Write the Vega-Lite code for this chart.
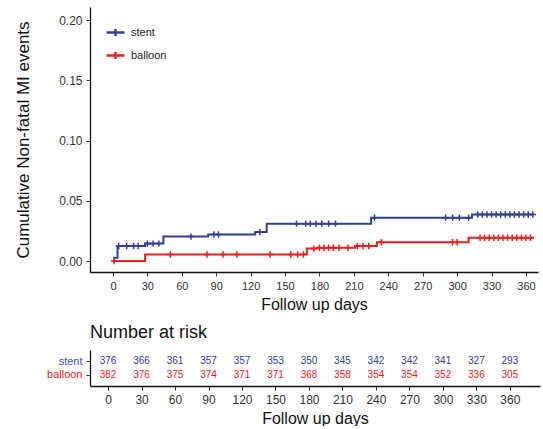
{
  "$schema": "https://vega.github.io/schema/vega-lite/v6.json",
  "padding": {"left": 14, "top": 7, "right": 3, "bottom": 0},
  "background": "white",
  "datasets": {
    "km": [
      {"group": "stent", "day": 0, "cum": 0},
      {"group": "stent", "day": 1, "cum": 0.0027},
      {"group": "stent", "day": 4, "cum": 0.0125},
      {"group": "stent", "day": 28, "cum": 0.0145},
      {"group": "stent", "day": 44, "cum": 0.0203},
      {"group": "stent", "day": 83, "cum": 0.022},
      {"group": "stent", "day": 124, "cum": 0.024},
      {"group": "stent", "day": 134, "cum": 0.031},
      {"group": "stent", "day": 225, "cum": 0.036},
      {"group": "stent", "day": 313, "cum": 0.0386},
      {"group": "stent", "day": 367, "cum": 0.0386},
      {"group": "balloon", "day": 0, "cum": 0},
      {"group": "balloon", "day": 28, "cum": 0.0054},
      {"group": "balloon", "day": 169, "cum": 0.0104},
      {"group": "balloon", "day": 178, "cum": 0.011},
      {"group": "balloon", "day": 211, "cum": 0.0125},
      {"group": "balloon", "day": 230, "cum": 0.0156},
      {"group": "balloon", "day": 310, "cum": 0.0193},
      {"group": "balloon", "day": 367, "cum": 0.0193}
    ],
    "cens": [
      {"group": "stent", "day": 5, "cum": 0.0125},
      {"group": "stent", "day": 12, "cum": 0.0125},
      {"group": "stent", "day": 18, "cum": 0.0125},
      {"group": "stent", "day": 22, "cum": 0.0125},
      {"group": "stent", "day": 30, "cum": 0.0145},
      {"group": "stent", "day": 35, "cum": 0.0145},
      {"group": "stent", "day": 40, "cum": 0.0145},
      {"group": "stent", "day": 68, "cum": 0.0203},
      {"group": "stent", "day": 88, "cum": 0.022},
      {"group": "stent", "day": 92, "cum": 0.022},
      {"group": "stent", "day": 128, "cum": 0.024},
      {"group": "stent", "day": 160, "cum": 0.031},
      {"group": "stent", "day": 168, "cum": 0.031},
      {"group": "stent", "day": 172, "cum": 0.031},
      {"group": "stent", "day": 177, "cum": 0.031},
      {"group": "stent", "day": 182, "cum": 0.031},
      {"group": "stent", "day": 188, "cum": 0.031},
      {"group": "stent", "day": 194, "cum": 0.031},
      {"group": "stent", "day": 228, "cum": 0.036},
      {"group": "stent", "day": 290, "cum": 0.036},
      {"group": "stent", "day": 296, "cum": 0.036},
      {"group": "stent", "day": 302, "cum": 0.036},
      {"group": "stent", "day": 310, "cum": 0.036},
      {"group": "stent", "day": 318, "cum": 0.0386},
      {"group": "stent", "day": 322, "cum": 0.0386},
      {"group": "stent", "day": 326, "cum": 0.0386},
      {"group": "stent", "day": 330, "cum": 0.0386},
      {"group": "stent", "day": 334, "cum": 0.0386},
      {"group": "stent", "day": 338, "cum": 0.0386},
      {"group": "stent", "day": 342, "cum": 0.0386},
      {"group": "stent", "day": 346, "cum": 0.0386},
      {"group": "stent", "day": 350, "cum": 0.0386},
      {"group": "stent", "day": 354, "cum": 0.0386},
      {"group": "stent", "day": 358, "cum": 0.0386},
      {"group": "stent", "day": 362, "cum": 0.0386},
      {"group": "stent", "day": 366, "cum": 0.0386},
      {"group": "balloon", "day": 1, "cum": 0},
      {"group": "balloon", "day": 50, "cum": 0.0054},
      {"group": "balloon", "day": 82, "cum": 0.0054},
      {"group": "balloon", "day": 96, "cum": 0.0054},
      {"group": "balloon", "day": 108, "cum": 0.0054},
      {"group": "balloon", "day": 137, "cum": 0.0054},
      {"group": "balloon", "day": 155, "cum": 0.0054},
      {"group": "balloon", "day": 161, "cum": 0.0054},
      {"group": "balloon", "day": 166, "cum": 0.0054},
      {"group": "balloon", "day": 175, "cum": 0.0104},
      {"group": "balloon", "day": 180, "cum": 0.011},
      {"group": "balloon", "day": 184, "cum": 0.011},
      {"group": "balloon", "day": 188, "cum": 0.011},
      {"group": "balloon", "day": 192, "cum": 0.011},
      {"group": "balloon", "day": 197, "cum": 0.011},
      {"group": "balloon", "day": 205, "cum": 0.011},
      {"group": "balloon", "day": 213, "cum": 0.0125},
      {"group": "balloon", "day": 218, "cum": 0.0125},
      {"group": "balloon", "day": 223, "cum": 0.0125},
      {"group": "balloon", "day": 234, "cum": 0.0156},
      {"group": "balloon", "day": 296, "cum": 0.0156},
      {"group": "balloon", "day": 300, "cum": 0.0156},
      {"group": "balloon", "day": 320, "cum": 0.0193},
      {"group": "balloon", "day": 324, "cum": 0.0193},
      {"group": "balloon", "day": 328, "cum": 0.0193},
      {"group": "balloon", "day": 332, "cum": 0.0193},
      {"group": "balloon", "day": 336, "cum": 0.0193},
      {"group": "balloon", "day": 340, "cum": 0.0193},
      {"group": "balloon", "day": 344, "cum": 0.0193},
      {"group": "balloon", "day": 348, "cum": 0.0193},
      {"group": "balloon", "day": 352, "cum": 0.0193},
      {"group": "balloon", "day": 356, "cum": 0.0193},
      {"group": "balloon", "day": 360, "cum": 0.0193},
      {"group": "balloon", "day": 364, "cum": 0.0193}
    ],
    "risk": [
      {"group": "stent", "day": 0, "n": 376},
      {"group": "stent", "day": 30, "n": 366},
      {"group": "stent", "day": 60, "n": 361},
      {"group": "stent", "day": 90, "n": 357},
      {"group": "stent", "day": 120, "n": 357},
      {"group": "stent", "day": 150, "n": 353},
      {"group": "stent", "day": 180, "n": 350},
      {"group": "stent", "day": 210, "n": 345},
      {"group": "stent", "day": 240, "n": 342},
      {"group": "stent", "day": 270, "n": 342},
      {"group": "stent", "day": 300, "n": 341},
      {"group": "stent", "day": 330, "n": 327},
      {"group": "stent", "day": 360, "n": 293},
      {"group": "balloon", "day": 0, "n": 382},
      {"group": "balloon", "day": 30, "n": 376},
      {"group": "balloon", "day": 60, "n": 375},
      {"group": "balloon", "day": 90, "n": 374},
      {"group": "balloon", "day": 120, "n": 371},
      {"group": "balloon", "day": 150, "n": 371},
      {"group": "balloon", "day": 180, "n": 368},
      {"group": "balloon", "day": 210, "n": 358},
      {"group": "balloon", "day": 240, "n": 354},
      {"group": "balloon", "day": 270, "n": 354},
      {"group": "balloon", "day": 300, "n": 352},
      {"group": "balloon", "day": 330, "n": 336},
      {"group": "balloon", "day": 360, "n": 305}
    ]
  },
  "spacing": 12,
  "resolve": {"scale": {"x": "independent", "y": "independent"}},
  "vconcat": [
    {
      "width": 448,
      "height": 265,
      "encoding": {
        "x": {"field": "day", "type": "quantitative", "scale": {"domain": [-20, 370.5], "nice": false, "zero": false},
          "axis": {"values": [0, 30, 60, 90, 120, 150, 180, 210, 240, 270, 300, 330, 360], "title": "Follow up days", "grid": false, "labelOverlap": false, "labelFontSize": 11}},
        "y": {"field": "cum", "type": "quantitative", "scale": {"domain": [-0.0091, 0.2108], "nice": false, "zero": false},
          "axis": {"values": [0, 0.05, 0.1, 0.15, 0.2], "format": ".2f", "title": "Cumulative Non-fatal MI events", "grid": false, "titlePadding": 26}},
        "color": {"field": "group", "type": "nominal",
          "scale": {"domain": ["stent", "balloon"], "range": ["#323f98", "#f21d1d"]},
          "legend": {"title": null, "orient": "none", "legendX": 15, "legendY": 15, "padding": 0,
            "symbolType": "M-1,0H1M0,-0.38V0.38", "symbolSize": 324, "symbolStrokeWidth": 2.5,
            "labelFontSize": 11, "labelOffset": 5, "rowPadding": 4, "labelFont": "Liberation Sans", "labelColor": "#222"}}
      },
      "layer": [
        {
          "data": {"name": "km"},
          "mark": {"type": "line", "interpolate": "step-after", "strokeWidth": 2}
        },
        {
          "data": {"name": "cens"},
          "mark": {"type": "point", "shape": "M-1,0H1M0,-1V1", "filled": false, "size": 40, "strokeWidth": 1.5, "opacity": 1}
        }
      ]
    },
    {
      "width": 450,
      "height": 36,
      "title": {"text": "Number at risk", "anchor": "start", "frame": "group", "fontSize": 18, "fontWeight": "normal", "font": "Liberation Sans", "offset": 8, "color": "#111"},
      "data": {"name": "risk"},
      "mark": {"type": "text", "fontSize": 10, "font": "Liberation Sans"},
      "encoding": {
        "x": {"field": "day", "type": "quantitative", "scale": {"domain": [-16.2, 387], "nice": false, "zero": false},
          "axis": {"values": [0, 30, 60, 90, 120, 150, 180, 210, 240, 270, 300, 330, 360], "title": "Follow up days", "grid": false, "labelOverlap": false}},
        "y": {"field": "group", "type": "nominal", "scale": {"type": "point", "domain": ["stent", "balloon"], "padding": 0.85},
          "axis": {"title": null, "labelFontSize": 11,
            "labelColor": {"condition": {"test": "datum.value == 'stent'", "value": "#3f4fa8"}, "value": "#f21d1d"}}},
        "text": {"field": "n", "type": "quantitative"},
        "color": {"field": "group", "type": "nominal", "legend": null}
      }
    }
  ],
  "config": {
    "view": {"stroke": null},
    "axis": {
      "domainColor": "#111", "domainWidth": 1.3, "tickColor": "#333", "tickSize": 4, "labelPadding": 4,
      "labelFont": "Liberation Sans", "labelFontSize": 12, "labelColor": "#333",
      "titleFont": "Liberation Sans", "titleFontSize": 16, "titleFontWeight": "normal", "titleColor": "#111"
    },
    "axisY": {"titleFontSize": 17},
    "axisX": {"titlePadding": 5}
  }
}
